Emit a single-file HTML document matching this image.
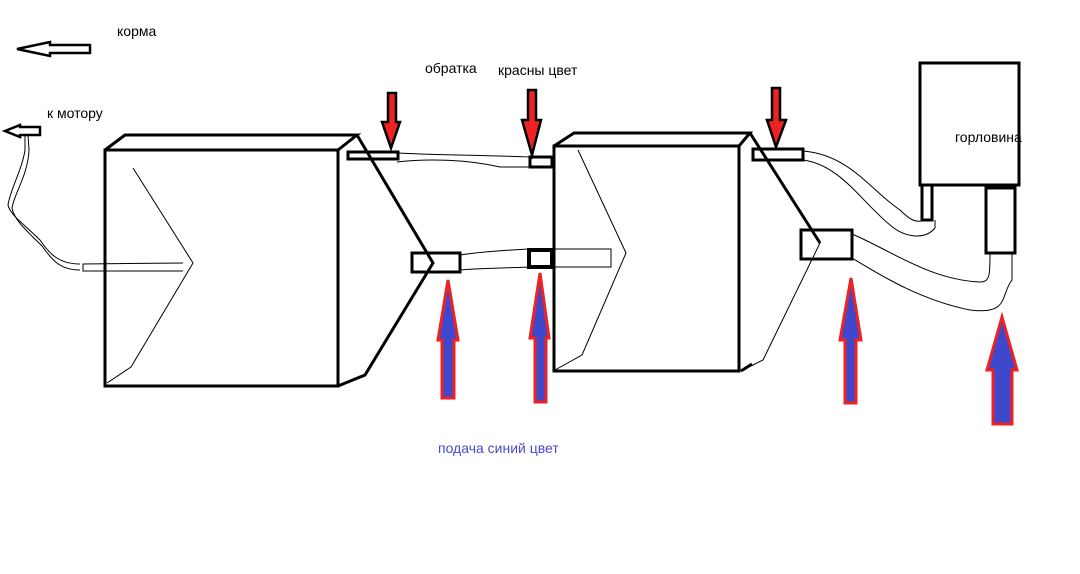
<!DOCTYPE html>
<html><head><meta charset="utf-8"><style>
html,body{margin:0;padding:0;background:#fff;}
svg{display:block;}
text{font-family:"Liberation Sans","DejaVu Sans",sans-serif;font-size:14px;fill:#000;}
</style></head><body>
<svg width="1080" height="574" viewBox="0 0 1080 574" xmlns="http://www.w3.org/2000/svg">
<rect width="1080" height="574" fill="#fff"/>
<g fill="none" stroke="#000" stroke-linejoin="miter">
<rect x="105" y="150" width="233" height="236" stroke-width="3"/>
<polyline points="105,150 125,135 357,135 338,150" stroke-width="3"/>
<polyline points="357,135 433,263 365,375 338,386" stroke-width="3"/>
<polyline points="133,168 193,263 131,367 107,383" stroke-width="1"/>
<polyline points="183,263 83,264 83,271 183,271" stroke-width="1"/>
<path d="M80,264 C60,264 50,255 40,240 C25,225 10,215 8,205 C10,190 22,170 25,150 L25,135" stroke-width="1"/>
<path d="M80,270 C60,270 52,260 42,246 C28,232 14,220 12,208 C14,194 28,175 29,150 L28,135" stroke-width="1"/>
<rect x="554" y="146" width="185" height="225" stroke-width="3"/>
<polyline points="554,146 574,133 750,133 739,146" stroke-width="3"/>
<polyline points="750,133 820,243" stroke-width="3"/>
<polyline points="820,243 763,360 741,371" stroke-width="1"/>
<line x1="741" y1="371" x2="752" y2="364" stroke-width="3"/>
<polyline points="578,150 626,253 582,355 555,370" stroke-width="1"/>
<rect x="348" y="152" width="50" height="7" stroke-width="3"/>
<rect x="530" y="157" width="22" height="10" stroke-width="3"/>
<rect x="529" y="250" width="23" height="17" stroke-width="4"/>
<rect x="552" y="249" width="59" height="18" stroke-width="1"/>
<rect x="412" y="253" width="48" height="19" stroke-width="3"/>
<rect x="753" y="149" width="50" height="11" stroke-width="3"/>
<rect x="801" y="230" width="51" height="29" stroke-width="3"/>
<rect x="920" y="63" width="99" height="122" stroke-width="3"/>
<rect x="922" y="185" width="10" height="35" stroke-width="3"/>
<rect x="986" y="188" width="29" height="65" stroke-width="3"/>
<path d="M398,153 C430,155 480,155 530,157" stroke-width="1"/>
<path d="M397,162 C430,158 470,160 500,167 L530,167" stroke-width="1"/>
<path d="M460,255 C480,252 510,250 529,249" stroke-width="1"/>
<path d="M460,270 C480,268 510,268 529,267" stroke-width="1"/>
<path d="M803,151 C850,155 870,190 900,210 C910,220 915,222 922,221" stroke-width="1"/>
<path d="M803,160 C840,165 860,200 890,225 C905,238 925,240 935,228 L935,220" stroke-width="1"/>
<path d="M852,234 C890,250 930,280 980,282 C990,282 990,275 990,253" stroke-width="1"/>
<path d="M852,258 C880,275 920,300 970,310 C1010,315 1000,295 1012,280 L1012,253" stroke-width="1"/>
</g>
<g fill="#ee2222" stroke="#000" stroke-width="2.5" stroke-linejoin="miter">
<polygon points="388,93 396,93 396,122 400,122 391,148 382,122 388,122"/>
<polygon points="528,90 536,90 536,120 541,120 532,155 522,120 528,120"/>
<polygon points="772,88 780,88 780,120 786,120 776,147 767,120 772,120"/>
</g>
<g fill="#3f48cc" stroke="#ee2222" stroke-width="3" stroke-linejoin="miter">
<polygon points="448,280 458,340 454,340 454,398 442,398 442,340 438,340"/>
<polygon points="540,273 549,338 546,338 546,402 535,402 535,338 530,338"/>
<polygon points="851,278 861,340 856,340 856,403 845,403 845,340 840,340"/>
<polygon points="1002,317 1017,370 1012,370 1012,424 993,424 993,370 987,370"/>
</g>
<g fill="#fff" stroke="#000" stroke-width="2.5">
<polygon points="17,49 50,42 50,45 90,45 90,53 50,53 50,56"/>
<polygon points="5,131 20,125 20,127 40,127 40,135 20,135 20,137"/>
</g>
<text x="117" y="36">корма</text>
<text x="425" y="73">обратка</text>
<text x="498" y="75">красны цвет</text>
<text x="47" y="118">к мотору</text>
<text x="955" y="142">горловина</text>
<text x="438" y="453" style="fill:#4a4acc">подача синий цвет</text>
</svg>
</body></html>
